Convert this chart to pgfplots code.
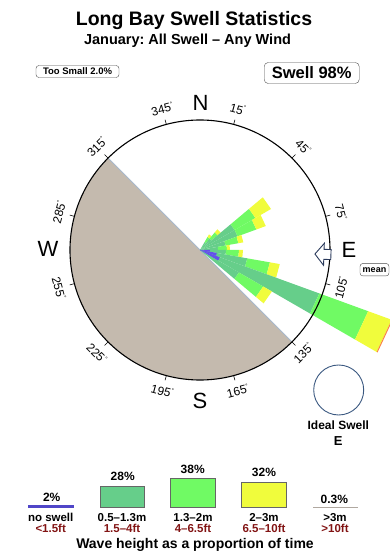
\documentclass[border=0pt]{standalone}
\usepackage{fontspec}
\setmainfont{Liberation Sans}
\usepackage{pgfplots}
\pgfplotsset{compat=1.18}
\usepgfplotslibrary{polar}
\frenchspacing
\definecolor{dg}{RGB}{102,206,138}
\definecolor{lg}{RGB}{112,250,100}
\definecolor{yl}{RGB}{240,252,60}
\definecolor{bl}{RGB}{100,80,235}
\definecolor{redtip}{RGB}{250,130,70}
\definecolor{shadow}{RGB}{196,186,174}
\definecolor{shedge}{RGB}{168,184,204}
\definecolor{navy}{RGB}{40,56,90}
\definecolor{idealc}{RGB}{58,88,128}
\definecolor{dred}{RGB}{130,20,20}
\definecolor{lgray}{RGB}{176,168,160}
\definecolor{lblue}{RGB}{80,70,200}
\newcommand{\dg}{\raisebox{0.8ex}{\fontsize{6}{6}\selectfont\textdegree}}
\tikzset{lab/.style={font=\fontsize{12}{13}\selectfont, inner sep=0pt},
  lp/.style={font=\fontsize{12}{13}\selectfont\bfseries},
  ll/.style={font=\fontsize{11.5}{12}\selectfont\bfseries, inner sep=0pt}}
\newcommand{\seg}[5]{\addplot[draw=none,fill=#5,data cs=polar] coordinates {(#1,#3) (#1,#4) (#2,#4) (#2,#3)};}
\begin{document}
\begin{tikzpicture}
\begin{axis}[
  scale only axis, width=390pt, height=560pt,
  xmin=-200, xmax=190, ymin=-310, ymax=250,
  hide axis, clip=false,
]
% shadow sector (blocked directions 135..315 through S and W)
\addplot[draw=none, fill=shadow, data cs=polar] coordinates {(0,0) (-45,130) (-55,130) (-65,130) (-75,130) (-85,130) (-95,130) (-105,130) (-115,130) (-125,130) (-135,130) (-145,130) (-155,130) (-165,130) (-175,130) (-185,130) (-195,130) (-205,130) (-215,130) (-225,130)} -- cycle;
\addplot[draw=shedge, line width=1pt, data cs=polar] coordinates {(-45,130) (135,130)};
% wedges: bearing B -> polar angle 90-B, 10 deg wide
% B=35
\seg{60}{50}{0}{9}{dg}\seg{60}{50}{9}{15}{lg}\seg{60}{50}{15}{18}{yl}
% B=45
\seg{50}{40}{0}{15}{dg}\seg{50}{40}{15}{23}{lg}\seg{50}{40}{23}{27}{yl}
% B=55
\seg{40}{30}{0}{40}{dg}\seg{40}{30}{40}{64}{lg}\seg{40}{30}{64}{82}{yl}
% B=65
\seg{30}{20}{0}{40}{dg}\seg{30}{20}{40}{60}{lg}\seg{30}{20}{60}{70}{yl}
% B=75
\seg{20}{10}{0}{26}{dg}\seg{20}{10}{26}{39}{lg}\seg{20}{10}{39}{44}{yl}
% B=85
\seg{10}{0}{0}{18}{dg}\seg{10}{0}{18}{27}{lg}\seg{10}{0}{27}{30}{yl}
% B=95
\seg{0}{-10}{0}{26}{dg}\seg{0}{-10}{26}{39}{lg}\seg{0}{-10}{39}{43}{yl}
% B=105
\seg{-10}{-20}{0}{48}{dg}\seg{-10}{-20}{48}{71}{lg}\seg{-10}{-20}{71}{81}{yl}
% B=115
\seg{-20}{-30}{0}{127}{dg}\seg{-20}{-30}{127}{179}{lg}\seg{-20}{-30}{179}{204}{yl}\seg{-20}{-30}{204}{205}{redtip}
% B=125
\seg{-30}{-40}{0}{45}{dg}\seg{-30}{-40}{45}{73}{lg}\seg{-30}{-40}{73}{83}{yl}
% no swell
\seg{0}{-10}{0}{10}{bl}\seg{-10}{-20}{0}{17}{bl}\seg{-20}{-30}{0}{21}{bl}
% compass circle
\draw[black, line width=1.1pt] (axis cs:0,0) circle[radius=130pt];
\pgfplotsinvokeforeach{75,45,15,-15,-45,-75,-105,-135,-165,165,135,105}{
  \draw[line width=0.6pt] (axis cs:0,0) ++(#1:130pt) -- ++(#1:5pt);
}
% mean direction arrow
\addplot[draw=navy, fill=white, line width=0.9pt, data cs=polar] coordinates {(-2,115) (3.07,124.5) (0.31,124.1) (0.19,131.1) (-4.19,131.1) (-4.31,124.1) (-7.07,124.5)} -- cycle;
% degree labels
\node[lab, rotate=-15] at (axis cs:37.8,141.0) {15\dg};
\node[lab, rotate=-45] at (axis cs:103.2,103.2) {45\dg};
\node[lab, rotate=-75] at (axis cs:141.0,37.8) {75\dg};
\node[lab, rotate=75] at (axis cs:141.0,-37.8) {105\dg};
\node[lab, rotate=45] at (axis cs:103.2,-103.2) {135\dg};
\node[lab, rotate=15] at (axis cs:37.8,-141.0) {165\dg};
\node[lab, rotate=-15] at (axis cs:-37.8,-141.0) {195\dg};
\node[lab, rotate=-45] at (axis cs:-103.2,-103.2) {225\dg};
\node[lab, rotate=-75] at (axis cs:-141.0,-37.8) {255\dg};
\node[lab, rotate=75] at (axis cs:-141.0,37.8) {285\dg};
\node[lab, rotate=45] at (axis cs:-103.2,103.2) {315\dg};
\node[lab, rotate=15] at (axis cs:-37.8,141.0) {345\dg};
% cardinal letters
\node[font=\fontsize{22}{24}\selectfont] at (axis cs:0.5,147.5) {N};
\node[font=\fontsize{22}{24}\selectfont] at (axis cs:149,0) {E};
\node[font=\fontsize{22}{24}\selectfont] at (axis cs:-152,1) {W};
\node[font=\fontsize{22}{24}\selectfont] at (axis cs:0,-151) {S};
% titles
\node[anchor=base, font=\fontsize{19.5}{21}\selectfont\bfseries] at (axis cs:-6,224) {Long Bay Swell Statistics};
\node[anchor=base, font=\fontsize{14.5}{16}\selectfont\bfseries] at (axis cs:-12.5,205) {January: All Swell -- Any Wind};
% boxes
\node[draw=black!70, rounded corners=3pt, inner sep=0pt, minimum width=83pt, minimum height=12pt, font=\fontsize{9.5}{10}\selectfont\bfseries] at (axis cs:-122.5,178.5) {Too Small 2.0\%};
\node[draw=black!70, rounded corners=4pt, inner sep=0pt, minimum width=95pt, minimum height=21pt, font=\fontsize{16.5}{18}\selectfont\bfseries] at (axis cs:111.7,177) {Swell 98\%};
\node[draw=black!70, rounded corners=3pt, inner sep=0pt, minimum width=29pt, minimum height=12.5pt, font=\fontsize{9}{10}\selectfont\bfseries] at (axis cs:174.5,-19.7) {mean};
% ideal swell
\draw[idealc, line width=0.9pt] (axis cs:138.7,-140) circle[radius=25pt];
\node[font=\fontsize{12}{13}\selectfont\bfseries] at (axis cs:138.3,-175) {Ideal Swell};
\node[font=\fontsize{13}{14}\selectfont\bfseries] at (axis cs:138.3,-190.7) {E};
% legend
\addplot[draw=lblue, line width=2.5pt] coordinates {(-171.7,-256.7) (-126,-256.7)};
\addplot[fill=dg, draw=black!60, line width=0.6pt] coordinates {(-100,-257.7) (-100,-236) (-55.7,-236) (-55.7,-257.7)} -- cycle;
\addplot[fill=lg, draw=black!60, line width=0.6pt] coordinates {(-29.3,-257.7) (-29.3,-228) (15.3,-228) (15.3,-257.7)} -- cycle;
\addplot[fill=yl, draw=black!60, line width=0.6pt] coordinates {(41.7,-257.7) (41.7,-232) (86.7,-232) (86.7,-257.7)} -- cycle;
\addplot[draw=lgray, line width=1.5pt] coordinates {(113.3,-257.7) (157.7,-257.7)};
\node[lp] at (axis cs:-148.3,-247.3) {2\%};
\node[lp] at (axis cs:-77.3,-226.7) {28\%};
\node[lp] at (axis cs:-7.3,-219) {38\%};
\node[lp] at (axis cs:64,-222.7) {32\%};
\node[lp] at (axis cs:134.3,-249) {0.3\%};
\node[ll] at (axis cs:-149.3,-267.7) {no swell};
\node[ll] at (axis cs:-78,-267.7) {0.5--1.3m};
\node[ll] at (axis cs:-7,-267.7) {1.3--2m};
\node[ll] at (axis cs:64,-267.7) {2--3m};
\node[ll] at (axis cs:135,-267.7) {>3m};
\node[ll, text=dred] at (axis cs:-149.3,-278.3) {<1.5ft};
\node[ll, text=dred] at (axis cs:-78,-278.3) {1.5--4ft};
\node[ll, text=dred] at (axis cs:-7,-278.3) {4--6.5ft};
\node[ll, text=dred] at (axis cs:64,-278.3) {6.5--10ft};
\node[ll, text=dred] at (axis cs:135,-278.3) {>10ft};
\node[font=\fontsize{14}{15}\selectfont\bfseries] at (axis cs:-5,-295) {Wave height as a proportion of time};
\end{axis}
\pgfresetboundingbox
\path[use as bounding box] (current axis.south west) rectangle (current axis.north east);
\end{tikzpicture}
\end{document}
